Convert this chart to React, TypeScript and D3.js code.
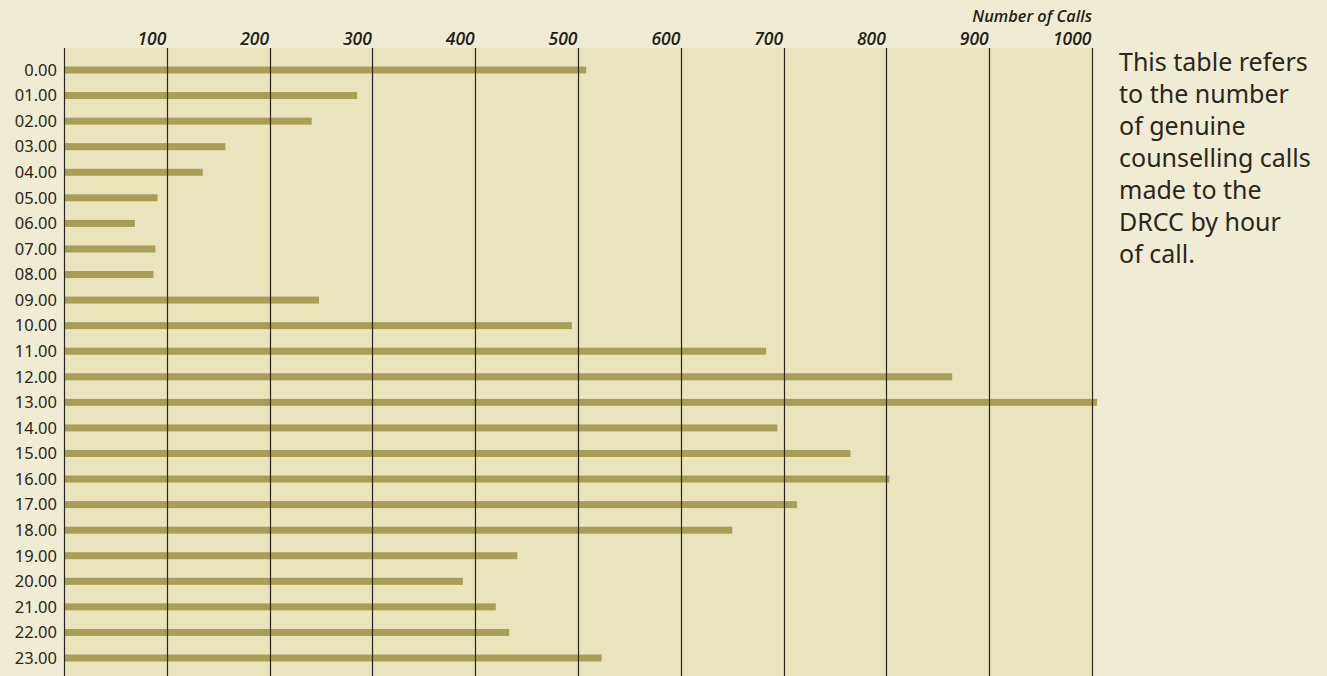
import React, { useEffect, useRef } from 'react'
import * as d3 from 'd3'

const hours = [
  '0.00', '01.00', '02.00', '03.00', '04.00', '05.00', '06.00', '07.00',
  '08.00', '09.00', '10.00', '11.00', '12.00', '13.00', '14.00', '15.00',
  '16.00', '17.00', '18.00', '19.00', '20.00', '21.00', '22.00', '23.00',
]
const calls = [
  508, 285, 241, 157, 135, 91, 69, 89, 87, 248, 494, 683,
  864, 1005, 694, 765, 803, 713, 650, 441, 388, 420, 433, 523,
]
const xTicks = [100, 200, 300, 400, 500, 600, 700, 800, 900, 1000]
const noteLines = [
  'This table refers',
  'to the number',
  'of genuine',
  'counselling calls',
  'made to the',
  'DRCC by hour',
  'of call.',
]

const App: React.FC = () => {
  const svgRef = useRef<SVGSVGElement | null>(null)

  useEffect(() => {
    if (!svgRef.current) return
    const width = 1327
    const height = 676
    const svg = d3.select(svgRef.current)
    svg.selectAll('*').remove()
    svg.attr('width', width).attr('height', height)

    const plot = { left: 64, right: 1092, top: 48, bottom: height }

    const x = d3.scaleLinear().domain([0, 1000]).range([plot.left, plot.right])
    const y = d3.scalePoint().domain(hours).range([70, 658])

    svg.append('rect')
      .attr('width', width).attr('height', height)
      .attr('fill', '#f0ebd4')

    svg.append('rect')
      .attr('x', plot.left).attr('y', plot.top)
      .attr('width', plot.right - plot.left).attr('height', plot.bottom - plot.top)
      .attr('fill', '#e9e4bc')

    // bars
    svg.append('g')
      .selectAll('rect')
      .data(calls)
      .join('rect')
      .attr('x', x(0))
      .attr('y', (d, i) => y(hours[i])! - 3.5)
      .attr('width', d => x(d) - x(0))
      .attr('height', 7)
      .attr('fill', '#a89e56')

    // gridlines
    svg.append('g')
      .selectAll('line')
      .data([0, ...xTicks])
      .join('line')
      .attr('x1', d => Math.round(x(d)) + 0.5)
      .attr('x2', d => Math.round(x(d)) + 0.5)
      .attr('y1', plot.top)
      .attr('y2', plot.bottom)
      .attr('stroke', '#2a2620')
      .attr('stroke-width', 1.2)

    // top tick labels
    svg.append('g')
      .attr('text-anchor', 'end')
      .style('font', 'italic 600 17.5px "Open Sans", sans-serif')
      .attr('fill', '#221f1a')
      .selectAll('text')
      .data(xTicks)
      .join('text')
      .attr('x', d => x(d) - 0.5)
      .attr('y', 45)
      .text(d => d)

    svg.append('text')
      .attr('x', plot.right)
      .attr('y', 22)
      .attr('text-anchor', 'end')
      .style('font', 'italic 600 16.3px "Open Sans", sans-serif')
      .attr('fill', '#221f1a')
      .text('Number of Calls')

    // hour labels
    svg.append('g')
      .attr('text-anchor', 'end')
      .style('font', '16.5px "Noto Sans", sans-serif')
      .attr('fill', '#2a2620')
      .selectAll('text')
      .data(hours)
      .join('text')
      .attr('x', 57)
      .attr('y', d => y(d)!)
      .attr('dy', '0.35em')
      .text(d => d)

    // note
    svg.append('g')
      .style('font', '25px "Noto Sans", sans-serif')
      .attr('fill', '#2a2620')
      .selectAll('text')
      .data(noteLines)
      .join('text')
      .attr('x', 1119)
      .attr('y', (d, i) => 71 + i * 32)
      .text(d => d)
  }, [])

  return <svg ref={svgRef} style={{ position: 'absolute', left: 0, top: 0 }}></svg>
}

export default App
